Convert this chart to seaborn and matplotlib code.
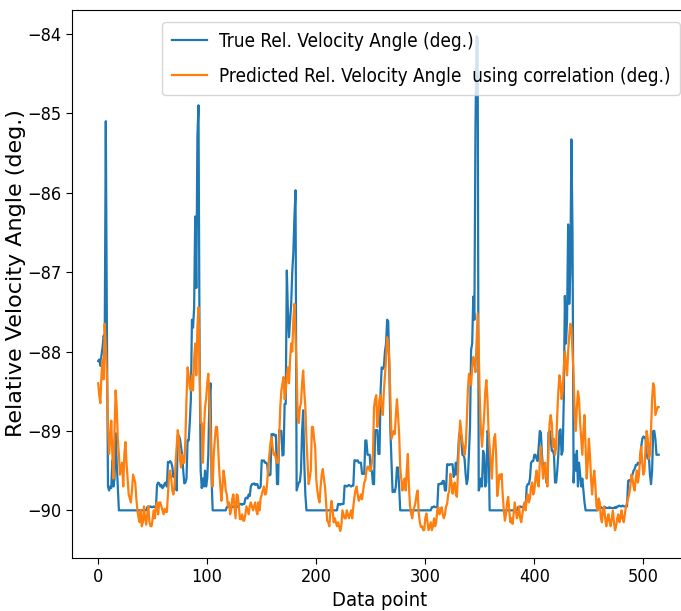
import matplotlib
matplotlib.use("Agg")
import matplotlib.pyplot as plt
from matplotlib.font_manager import FontProperties
import seaborn as sns
import pandas as pd

true_angle = [
    # 0-19
    -88.12, -88.10, -88.18, -88.05, -87.95, -87.80, -87.85, -85.10, -87.70, -89.70,
    -89.75, -89.70, -89.72, -89.37, -89.70, -89.60, -89.03, -89.40, -89.70, -90.00,
    # 20-44
    -90.00, -90.00, -90.00, -90.00, -90.00, -90.00, -90.00, -90.00, -90.00, -90.00,
    -90.00, -90.00, -90.00, -90.00, -90.00, -90.00, -90.00, -90.00, -90.00, -90.00,
    -90.00, -90.00, -90.00, -90.00, -90.00,
    # 45-53
    -89.96, -89.95, -89.96, -89.95, -89.96, -89.96, -89.95, -89.96, -89.96,
    # 54-63
    -89.68, -89.65, -89.66, -89.70, -89.68, -89.72, -89.70, -89.66, -89.65, -89.70,
    # 64-73
    -89.39, -89.40, -89.38, -89.40, -89.45, -89.58, -89.55, -89.58, -89.75, -89.06,
    # 74-83
    -89.06, -89.10, -89.20, -89.30, -89.50, -89.66, -89.65, -89.60, -89.12, -89.12,
    # 84-93
    -88.90, -88.60, -87.60, -87.70, -87.45, -86.30, -87.20, -85.30, -84.90, -88.00,
    # 94-105
    -89.50, -89.72, -89.60, -89.70, -89.50, -89.70, -89.60, -89.30, -88.60, -88.40, -89.60, -90.00,
    # 106-117
    -90.00, -90.00, -90.00, -90.00, -90.00, -90.00, -90.00, -90.00, -90.00, -90.00, -90.00, -90.00,
    # 118-127
    -89.96, -89.95, -89.96, -89.94, -89.96, -89.95, -89.96, -89.95, -89.94, -89.96,
    # 128-134
    -89.95, -89.94, -89.92, -89.92, -89.93, -89.92, -89.92,
    # 135-140
    -89.85, -89.84, -89.85, -89.80, -89.82, -89.70,
    # 141-149
    -89.67, -89.67, -89.66, -89.68, -89.67, -89.67, -89.72, -89.72, -89.70,
    # 150-158
    -89.37, -89.38, -89.37, -89.40, -89.40, -89.42, -89.56, -89.56, -89.55,
    # 159-172
    -89.04, -89.05, -89.04, -89.06, -89.05, -89.67, -89.67, -88.99, -89.00, -89.00, -89.31, -89.30, -88.66, -88.66,
    # 173-181
    -86.98, -87.50, -87.82, -87.60, -87.40, -87.00, -86.75, -86.30, -85.97,
    # 182-190
    -89.75, -89.70, -89.65, -89.64, -89.50, -89.00, -88.74, -89.40, -89.80,
    # 191-219
    -90.00, -90.00, -90.00, -90.00, -90.00, -90.00, -90.00, -90.00, -90.00, -90.00,
    -90.00, -90.00, -90.00, -90.00, -90.00, -90.00, -90.00, -90.00, -90.00, -90.00,
    -90.00, -90.00, -90.00, -90.00, -90.00, -90.00, -90.00, -90.00, -90.00,
    # 220-225
    -89.92, -89.92, -89.93, -89.92, -89.92, -89.92,
    # 226-234
    -89.69, -89.69, -89.70, -89.69, -89.68, -89.69, -89.70, -89.69, -89.69,
    # 235-246
    -89.37, -89.37, -89.38, -89.37, -89.40, -89.40, -89.40, -89.54, -89.54, -89.54, -89.12, -89.12,
    # 247-258
    -89.30, -89.30, -89.30, -89.50, -89.50, -89.67, -89.67, -88.99, -88.99, -88.99, -89.29, -89.29,
    # 259-266
    -88.50, -88.20, -88.22, -88.19, -88.00, -87.90, -87.60, -87.62,
    # 267-276
    -88.20, -89.00, -89.37, -89.77, -89.75, -89.77, -89.70, -89.46, -89.46, -89.70,
    # 277-305
    -90.00, -90.00, -90.00, -90.00, -90.00, -90.00, -90.00, -90.00, -90.00, -90.00,
    -90.00, -90.00, -90.00, -90.00, -90.00, -90.00, -90.00, -90.00, -90.00, -90.00,
    -90.00, -90.00, -90.00, -90.00, -90.00, -90.00, -90.00, -90.00, -90.00,
    # 306-325
    -89.96, -89.96, -89.95, -89.96, -89.96, -89.96, -89.67, -89.67, -89.66, -89.67,
    -89.63, -89.63, -89.75, -89.75, -89.42, -89.42, -89.43, -89.42, -89.42, -89.42,
    # 326-358
    -89.58, -89.55, -89.40, -89.55, -89.30, -89.05, -89.00, -89.10, -89.30, -89.30,
    -89.35, -89.55, -89.67, -89.60, -89.30, -88.95, -87.98, -87.90, -87.31, -87.60,
    -85.20, -84.03, -84.05, -89.75, -89.70, -89.60, -89.70, -89.25, -89.30, -89.70,
    -89.65, -89.00, -89.05,
    # 359-384
    -90.00, -90.00, -90.00, -90.00, -90.00, -90.00, -90.00, -90.00, -90.00, -90.00,
    -90.00, -90.00, -90.00, -90.00, -90.00, -90.00, -90.00, -90.00, -90.00, -90.00,
    -90.00, -90.00, -90.00, -90.00, -90.00, -90.00,
    # 385-395
    -89.96, -89.96, -89.95, -89.96, -89.96, -89.95, -89.96, -89.96, -89.70, -89.67, -89.67,
    # 396-420
    -89.60, -89.40, -89.38, -89.38, -89.30, -89.30, -89.35, -89.38, -89.20, -89.00,
    -89.02, -89.30, -89.47, -89.47, -89.50, -89.65, -89.65, -89.02, -89.00, -89.10,
    -89.25, -89.25, -89.30, -89.65, -89.65,
    # 421-435
    -89.50, -89.30, -89.00, -88.98, -89.30, -89.25, -88.60, -87.30, -87.90, -87.60,
    -86.40, -87.40, -87.00, -85.33, -86.50,
    # 436-446
    -89.65, -89.30, -89.50, -89.25, -89.70, -89.40, -89.55, -89.70, -89.60, -89.75, -89.90,
    # 447-458
    -90.00, -90.00, -90.00, -90.00, -90.00, -90.00, -90.00, -90.00, -90.00, -90.00, -90.00, -90.00,
    # 459-485
    -89.97, -89.97, -89.96, -89.97, -89.97, -89.97, -89.96, -89.97, -89.97, -89.97,
    -89.96, -89.97, -89.97, -89.97, -89.97, -89.96, -89.97, -89.95, -89.95, -89.94,
    -89.95, -89.95, -89.94, -89.95, -89.95, -89.95, -89.95,
    # 486-500
    -89.63, -89.62, -89.63, -89.60, -89.55, -89.50, -89.48, -89.43, -89.43, -89.40,
    -89.42, -89.40, -89.20, -89.10, -89.07,
    # 501-514
    -89.08, -89.10, -89.30, -89.35, -89.30, -89.55, -89.67, -89.50, -89.00, -89.00,
    -89.10, -89.30, -89.30, -89.30,
]

predicted_angle = [
    -88.40, -88.55, -88.65, -88.30, -88.10, -88.35, -87.65, -87.95, -88.30, -88.90,
    -89.29, -89.10, -88.87, -89.30, -89.60, -89.00, -88.49, -88.70, -89.10, -89.30,
    -89.55, -89.46, -89.40, -89.70, -89.30, -89.14, -89.40, -89.60, -89.80, -89.85,
    -89.90, -89.75, -89.55, -89.60, -89.65, -89.85, -90.00, -90.09, -90.15, -90.00,
    -90.20, -90.15, -89.95, -90.10, -90.18, -90.05, -89.95, -90.15, -90.20, -90.20,
    -90.10, -90.00, -90.10, -89.95, -89.90, -90.05, -89.90, -89.90, -89.95, -90.00,
    -90.05, -89.98, -90.02, -90.02, -89.80, -89.55, -89.50, -89.60, -89.75, -89.80,
    -89.70, -89.40, -89.20, -88.99, -89.10, -89.35, -89.46, -89.30, -89.40, -89.40,
    -89.10, -88.60, -88.20, -88.30, -88.45, -88.49, -88.30, -88.49, -88.10, -87.90,
    -88.30, -87.70, -87.44, -88.20, -88.90, -88.90, -89.40, -89.00, -88.70, -88.60,
    -88.40, -88.28, -88.60, -89.00, -89.41, -89.70, -89.30, -89.10, -88.95, -88.95,
    -89.20, -89.50, -89.70, -89.88, -89.70, -89.50, -89.60, -89.75, -89.80, -89.95,
    -89.90, -90.05, -90.00, -89.85, -89.80, -89.95, -90.10, -89.80, -89.81, -89.95,
    -90.11, -90.11, -90.05, -90.13, -90.13, -90.05, -89.95, -90.00, -90.05, -89.95,
    -89.90, -89.95, -90.00, -89.95, -89.90, -90.00, -90.05, -89.90, -90.00, -89.85,
    -89.80, -89.75, -89.70, -89.80, -89.79, -89.65, -89.45, -89.30, -89.15, -89.08,
    -89.20, -89.30, -89.28, -89.35, -89.40, -89.40, -89.10, -88.70, -88.49, -88.40,
    -88.32, -88.60, -88.50, -88.30, -88.20, -88.40, -88.10, -87.90, -88.00, -87.60,
    -87.40, -87.80, -88.24, -88.83, -88.90, -88.70, -88.65, -88.40, -88.24, -88.50,
    -88.70, -89.10, -89.40, -89.67, -89.60, -89.50, -88.95, -88.95, -89.10, -89.20,
    -89.60, -89.75, -89.85, -89.90, -89.70, -89.55, -89.48, -89.60, -89.70, -89.90,
    -90.13, -90.15, -90.20, -90.00, -89.88, -90.00, -90.15, -90.10, -90.15, -90.20,
    -90.15, -90.20, -90.26, -90.20, -90.00, -90.05, -90.10, -90.10, -90.00, -90.05,
    -90.10, -90.05, -90.00, -90.10, -89.95, -89.83, -89.75, -89.70, -89.80, -89.88,
    -89.85, -89.80, -89.86, -89.75, -89.65, -89.62, -89.50, -89.45, -89.45, -89.50,
    -89.50, -89.40, -89.30, -88.70, -88.60, -88.55, -88.95, -88.80, -88.60, -88.55,
    -88.70, -88.80, -88.50, -88.30, -88.10, -87.82, -87.90, -88.10, -88.60, -89.10,
    -89.05, -89.00, -89.04, -88.80, -88.60, -88.80, -89.04, -89.46, -89.60, -89.75,
    -89.65, -89.60, -89.75, -89.50, -89.29, -89.70, -89.95, -90.04, -90.10, -90.00,
    -89.96, -89.90, -89.80, -89.75, -90.04, -90.15, -90.21, -90.20, -90.25, -90.25,
    -90.10, -90.04, -90.15, -90.25, -90.20, -90.15, -90.25, -90.20, -90.10, -90.20,
    -90.15, -90.00, -89.96, -90.05, -90.00, -89.96, -90.05, -90.10, -90.05, -89.95,
    -89.92, -89.80, -89.75, -89.54, -89.65, -89.79, -89.70, -89.65, -89.80, -89.83,
    -89.50, -89.10, -88.87, -89.00, -89.14, -89.20, -89.30, -89.20, -88.90, -88.50,
    -88.28, -88.35, -88.42, -88.20, -88.07, -88.15, -88.26, -87.90, -87.52, -88.00,
    -88.60, -89.00, -89.20, -89.00, -88.80, -88.50, -88.36, -88.60, -89.00, -89.20,
    -89.40, -89.60, -89.30, -89.10, -89.04, -89.30, -89.82, -89.70, -89.55, -89.60,
    -89.54, -89.80, -90.00, -90.13, -90.05, -89.90, -89.83, -90.00, -90.15, -90.10,
    -90.17, -90.05, -89.90, -90.00, -90.10, -90.05, -89.95, -90.10, -90.15, -90.05,
    -89.95, -89.90, -90.00, -89.85, -89.80, -89.90, -89.85, -89.70, -89.65, -89.80,
    -89.75, -89.60, -89.50, -89.65, -89.70, -89.40, -89.20, -89.40, -89.60, -89.45,
    -89.40, -89.60, -89.70, -89.20, -88.90, -88.80, -88.90, -89.20, -89.10, -89.30,
    -89.20, -88.80, -88.50, -88.30, -88.40, -88.60, -88.50, -88.20, -88.00, -88.20,
    -88.30, -88.00, -87.80, -87.65, -87.70, -88.00, -88.30, -88.80, -89.00, -88.70,
    -88.50, -88.60, -88.90, -89.10, -89.30, -89.00, -88.80, -89.20, -89.60, -89.40,
    -89.10, -89.30, -89.60, -89.80, -89.60, -89.50, -89.70, -89.95, -90.00, -89.85,
    -89.90, -90.10, -90.15, -90.00, -89.95, -90.10, -90.20, -90.10, -90.05, -90.15,
    -90.20, -90.10, -90.00, -90.15, -90.25, -90.20, -90.10, -90.05, -90.15, -90.10,
    -90.00, -90.10, -90.15, -90.05, -89.95, -89.90, -89.85, -89.80, -89.70, -89.55,
    -89.60, -89.70, -89.75, -89.60, -89.50, -89.65, -89.55, -89.30, -89.20, -89.40,
    -89.55, -89.50, -89.20, -89.00, -89.10, -89.35, -89.30, -89.00, -88.60, -88.40,
    -88.45, -88.80, -88.75, -88.70, -88.70,
]

label_true = "True Rel. Velocity Angle (deg.)"
label_pred = "Predicted Rel. Velocity Angle  using correlation (deg.)"
x_label = "Data point"
y_label = "Relative Velocity Angle (deg.)"
y_ticks = [-84, -85, -86, -87, -88, -89, -90]
x_ticks = [0, 100, 200, 300, 400, 500]

df_true = pd.DataFrame({"x": range(len(true_angle)), "y": true_angle})
df_pred = pd.DataFrame({"x": range(len(predicted_angle)), "y": predicted_angle})

cond = dict(family="DejaVu Sans", stretch="condensed")

fig = plt.figure(figsize=(6.81, 6.11), dpi=100)
ax = fig.add_axes([72 / 681, 53 / 611, 615 / 681, 548 / 611])
sns.lineplot(data=df_true, x="x", y="y", ax=ax, color="#1f77b4", linewidth=1.6, label=label_true)
sns.lineplot(data=df_pred, x="x", y="y", ax=ax, color="#ff7f0e", linewidth=1.6, label=label_pred)

ax.set_xlim(-24, 540)
ax.set_ylim(-90.6, -83.7)
ax.set_xticks(x_ticks)
ax.set_yticks(y_ticks)
ax.tick_params(length=4)
for t in ax.get_xticklabels() + ax.get_yticklabels():
    t.set_fontproperties(FontProperties(size=13, **cond))
ax.set_xlabel(x_label, fontproperties=FontProperties(size=14.5, **cond), labelpad=3)
ax.set_ylabel(y_label, fontfamily="DejaVu Sans", fontsize=16)
ax.yaxis.set_label_coords(-0.074, 0.52)
leg = ax.legend(loc="upper right", bbox_to_anchor=(0.9886, 0.978),
                prop=FontProperties(size=13.6, **cond),
                borderaxespad=0.0, labelspacing=0.85, handlelength=1.85,
                handletextpad=0.65, borderpad=0.5)

fig.savefig("out.png", dpi=100)
